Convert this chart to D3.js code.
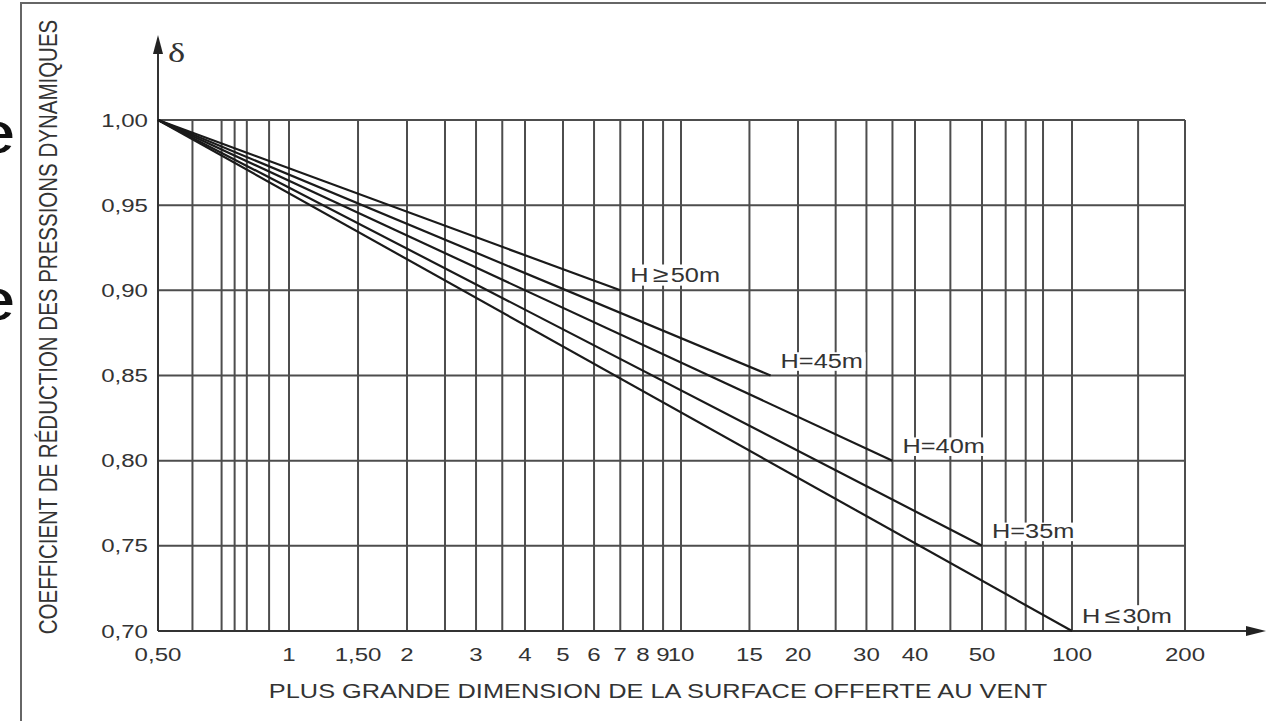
<!DOCTYPE html>
<html>
<head>
<meta charset="utf-8">
<script src="https://cdn.jsdelivr.net/npm/d3@7"></script>
<style>
  html, body { margin: 0; padding: 0; background: #fff; }
  svg { display: block; }
  text { font-family: "Liberation Sans", Arial, sans-serif; fill: #333; }
</style>
</head>
<body>
<svg id="chart" width="1266" height="721"></svg>
<script>
// Vertical grid values (plus grande dimension, m)
const xGrid = [0.5, 0.6, 0.7, 0.75, 0.8, 0.9, 1, 1.5, 2, 2.5, 3, 3.5, 4, 5, 6, 7, 8, 9,
               10, 15, 20, 25, 30, 35, 40, 45, 50, 60, 70, 80, 100, 150, 200];
// Labelled dimensions under the axis
const xTickValues = [0.5, 1, 1.5, 2, 3, 4, 5, 6, 7, 8, 9, 10, 15, 20, 30, 40, 50, 100, 200];
// Coefficient delta grid / labels
const yTickValues = [0.70, 0.75, 0.80, 0.85, 0.90, 0.95, 1.00];

// One line per building height: all start at (0,50 m ; 1,00)
const curveLabels = ["H", "H=45m", "H=40m", "H=35m", "H"];
const curveSymbols = ["≥", "", "", "", "≤"];
const curveSuffix = ["50m", "", "", "", "30m"];
const startDim = 0.5;
const startDelta = 1.00;
const endDim = [7, 17, 35, 50, 100];
const endDelta = [0.90, 0.85, 0.80, 0.75, 0.70];

const svg = d3.select("#chart");
const W = 1266, H = 721;
const textStretch = 1.3;   // lettering is set wide

// Nomogram axis: logarithmic, piecewise between reference graduations
const x = d3.scaleLog()
  .domain([0.5, 1, 10, 40, 50, 100, 200])
  .range([158, 289, 681, 915, 982, 1072, 1185]);
const y = d3.scaleLinear().domain([0.70, 1.00]).range([631, 120]);

const fmtComma = v => d3.format(".2f")(v).replace(".", ",");
const fmtX = v => (v < 1 || v % 1 !== 0) ? fmtComma(v) : String(v);

// Frame
svg.append("path")
  .attr("d", `M21,${H} V3 H${W}`)
  .attr("fill", "none").attr("stroke", "#666").attr("stroke-width", 2);

const grid = svg.append("g").attr("stroke", "#4d4d4d").attr("stroke-width", 2);
grid.selectAll("line.v").data(xGrid).join("line")
  .attr("class", "v")
  .attr("x1", d => x(d)).attr("x2", d => x(d))
  .attr("y1", y(0.70)).attr("y2", y(1.00));
grid.selectAll("line.h").data(yTickValues).join("line")
  .attr("class", "h")
  .attr("x1", x(0.5)).attr("x2", x(200))
  .attr("y1", d => y(d)).attr("y2", d => y(d));

// Axes with arrows
const axisG = svg.append("g").attr("stroke", "#333").attr("stroke-width", 2);
axisG.append("line").attr("x1", x(0.5)).attr("x2", x(0.5)).attr("y1", y(0.70)).attr("y2", 44);
axisG.append("line").attr("x1", x(0.5)).attr("x2", W - 10).attr("y1", y(0.70)).attr("y2", y(0.70));
svg.append("path")
  .attr("d", `M${x(0.5)},35 L${x(0.5) + 5},54 L${x(0.5) - 5},54 Z`)
  .attr("fill", "#222");
svg.append("path")
  .attr("d", `M${W},${y(0.70)} L${W - 20},${y(0.70) - 5} L${W - 20},${y(0.70) + 5} Z`)
  .attr("fill", "#222");

// Reduction lines
const curves = endDim.map((d, i) => ({
  i, x0: startDim, y0: startDelta, x1: d, y1: endDelta[i]
}));
svg.append("g").selectAll("line").data(curves).join("line")
  .attr("x1", d => x(d.x0)).attr("y1", d => y(d.y0))
  .attr("x2", d => x(d.x1)).attr("y2", d => y(d.y1))
  .attr("stroke", "#1a1a1a").attr("stroke-width", 2.2);

// Height labels at the end of each line, on a white ground
const lab = svg.append("g").selectAll("g").data(curves).join("g")
  .attr("transform", d => `translate(${x(d.x1) + 10},${y(d.y1) - 8}) scale(${textStretch},1)`);
const labText = lab.append("text").attr("font-size", 19.5);
labText.append("tspan").text(d => curveLabels[d.i]);
labText.append("tspan").attr("dx", d => curveSymbols[d.i] ? 3 : 0)
  .attr("font-size", 22).text(d => curveSymbols[d.i]);
labText.append("tspan").attr("dx", d => curveSymbols[d.i] ? 2 : 0).text(d => curveSuffix[d.i]);
lab.each(function () {
  const g = d3.select(this);
  const b = g.select("text").node().getBBox();
  g.insert("rect", "text")
    .attr("x", b.x - 2).attr("y", b.y + 2).attr("width", b.width + 4).attr("height", b.height - 3)
    .attr("fill", "#fff");
});

// Tick labels
svg.append("g").selectAll("text").data(yTickValues).join("text")
  .attr("transform", d => `translate(148,${y(d) + 6.5}) scale(${textStretch},1)`)
  .attr("text-anchor", "end").attr("font-size", 18.5)
  .text(fmtComma);
svg.append("g").selectAll("text").data(xTickValues).join("text")
  .attr("transform", d => `translate(${x(d)},661) scale(${textStretch},1)`)
  .attr("text-anchor", "middle").attr("font-size", 18.5)
  .text(fmtX);

// Axis titles
svg.append("text")
  .attr("transform", `translate(658,698) scale(${textStretch},1)`)
  .attr("text-anchor", "middle").attr("font-size", 19.5)
  .text("PLUS GRANDE DIMENSION DE LA SURFACE OFFERTE AU VENT");
svg.append("text")
  .attr("transform", `translate(57,327) scale(${textStretch},1) rotate(-90)`)
  .attr("text-anchor", "middle").attr("font-size", 20.5)
  .text("COEFFICIENT DE RÉDUCTION DES PRESSIONS DYNAMIQUES");
svg.append("text")
  .attr("transform", `translate(168,62) scale(${textStretch},1)`)
  .attr("font-family", "Liberation Serif, serif").attr("font-size", 28)
  .style("font-family", "'Liberation Serif', serif")
  .text("δ");

// Edge of the neighbouring page text
svg.append("g").selectAll("text").data(["e", "e"]).join("text")
  .attr("transform", (d, i) => `translate(16,${i ? 320 : 153}) scale(${textStretch},1)`)
  .attr("text-anchor", "end").attr("font-size", 60).style("fill", "#111")
  .text(d => d);
</script>
</body>
</html>
